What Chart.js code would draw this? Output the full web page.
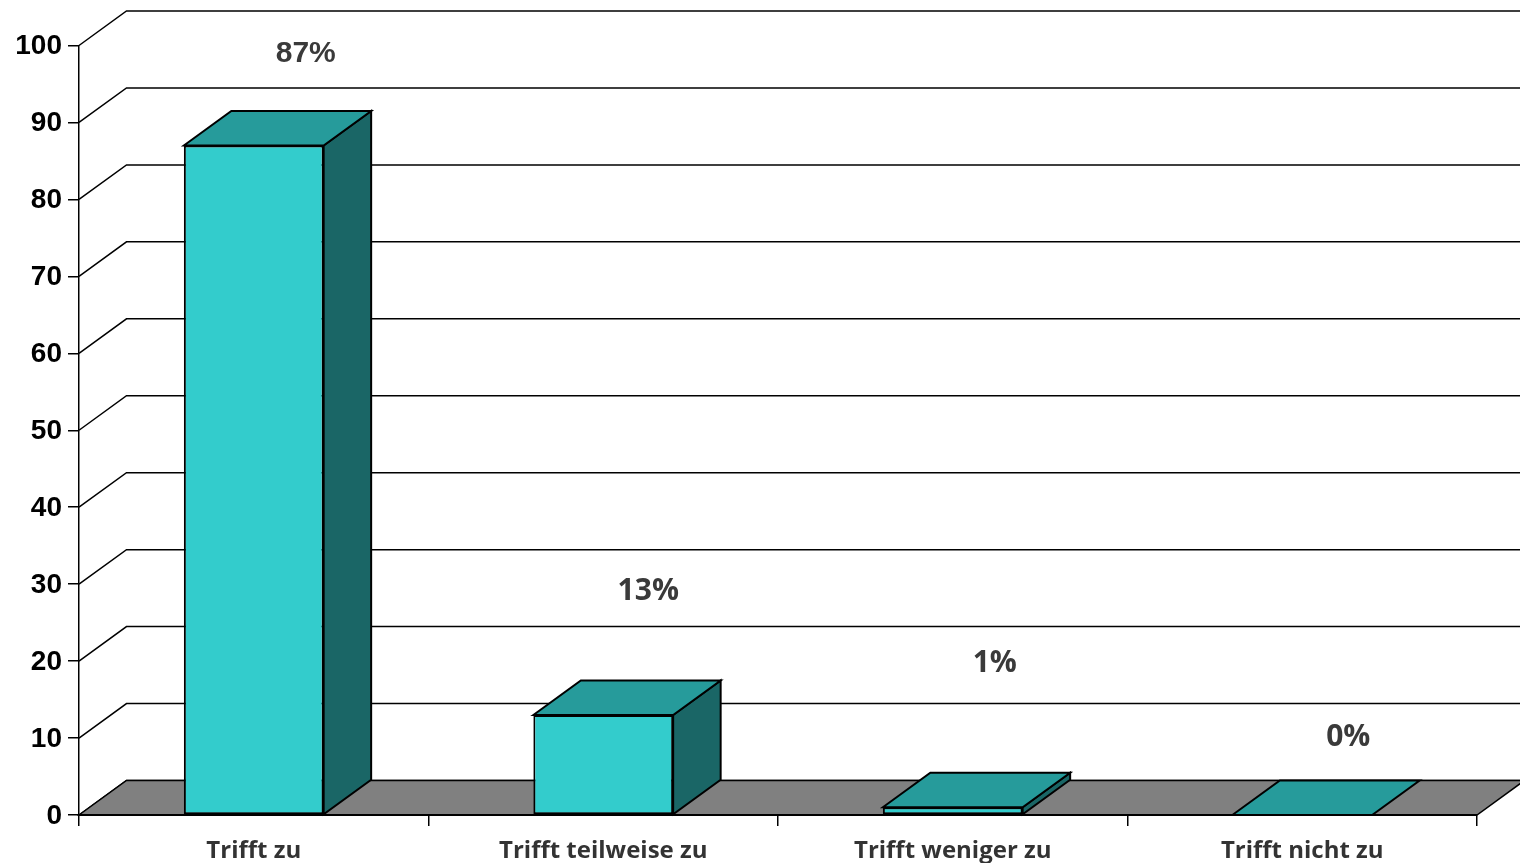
<!DOCTYPE html>
<html>
<head>
<meta charset="UTF-8">
<title>Trifft zu</title>
<script src="https://cdn.jsdelivr.net/npm/chart.js@4"></script>
<style>
  html, body { margin: 0; padding: 0; background: #fff; overflow: hidden; }
  canvas { display: block; }
</style>
</head>
<body>
<canvas id="chart" width="1520" height="863"></canvas>
<script>
const categories = ['Trifft zu', 'Trifft teilweise zu', 'Trifft weniger zu', 'Trifft nicht zu']
const values = [87, 13, 1, 0]
const valueLabels = ['87%', '13%', '1%', '0%']
const yTicks = [0, 10, 20, 30, 40, 50, 60, 70, 80, 90, 100]

// 3d look
const depthX = 47.5
const depthY = 34.5
const labelShift = [[52, -92], [45, -124], [42, -144], [46, -78]]
const labelFonts = ['bold 30px "Liberation Sans"', 'bold 30px "Open Sans"', 'bold 30px "Open Sans"', 'bold 30px "Open Sans"']

function poly(ctx, pts, fill) {
  ctx.beginPath()
  pts.forEach((p, i) => i ? ctx.lineTo(p[0], p[1]) : ctx.moveTo(p[0], p[1]))
  ctx.closePath()
  ctx.fillStyle = fill
  ctx.fill()
  ctx.stroke()
}

const box3d = {
  id: 'box3d',
  beforeDatasetsDraw(chart) {
    const ctx = chart.ctx
    const xs = chart.scales.x
    const ys = chart.scales.y
    const left = xs.left, right = xs.right
    ctx.save()
    ctx.strokeStyle = '#000'
    ctx.lineWidth = 1.5

    // back wall lines
    yTicks.forEach(t => {
      const y = ys.getPixelForValue(t)
      ctx.beginPath()
      ctx.moveTo(left, y)
      ctx.lineTo(left + depthX, y - depthY)
      ctx.lineTo(right + depthX, y - depthY)
      ctx.stroke()
    })

    // floor
    const y0 = ys.getPixelForValue(0)
    poly(ctx, [[left, y0], [left + depthX, y0 - depthY], [right + depthX, y0 - depthY], [right, y0]], '#808080')

    // side and top of every bar
    ctx.lineWidth = 2
    chart.getDatasetMeta(0).data.forEach(bar => {
      const l = bar.x - bar.width / 2
      const r = bar.x + bar.width / 2
      if (bar.base - bar.y > 0.5) {
        poly(ctx, [[r, bar.y], [r + depthX, bar.y - depthY], [r + depthX, bar.base - depthY], [r, bar.base]], '#1a6666')
      }
      poly(ctx, [[l, bar.y], [l + depthX, bar.y - depthY], [r + depthX, bar.y - depthY], [r, bar.y]], '#269b9b')
    })
    ctx.restore()
  },
  afterDatasetsDraw(chart) {
    const ctx = chart.ctx
    const xs = chart.scales.x
    const y0 = chart.scales.y.getPixelForValue(0)
    ctx.save()
    // front edge of the floor
    ctx.strokeStyle = '#000'
    ctx.lineWidth = 2
    ctx.beginPath()
    ctx.moveTo(xs.left, y0)
    ctx.lineTo(xs.right, y0)
    ctx.stroke()
    // value labels
    ctx.fillStyle = '#3a3a3a'
    ctx.textAlign = 'center'
    ctx.textBaseline = 'middle'
    chart.getDatasetMeta(0).data.forEach((bar, i) => {
      ctx.font = labelFonts[i]
      ctx.fillText(valueLabels[i], bar.x + labelShift[i][0], bar.y + labelShift[i][1])
    })
    ctx.restore()
  }
}

new Chart(document.getElementById('chart'), {
  type: 'bar',
  data: {
    labels: categories,
    datasets: [{
      data: values,
      backgroundColor: '#33cccc',
      borderColor: '#000',
      borderWidth: 2,
      borderSkipped: false,
      barPercentage: 0.4,
      categoryPercentage: 1
    }]
  },
  options: {
    responsive: false,
    animation: false,
    layout: { padding: { top: 45.5, right: 43 } },
    plugins: { legend: { display: false }, tooltip: { enabled: false } },
    scales: {
      x: {
        afterFit(s) { s.height = 48 },
        grid: { drawOnChartArea: false, color: '#000', lineWidth: 1.5, tickLength: 11 },
        border: { color: '#000', width: 1.5 },
        ticks: { color: '#333', font: { family: 'Open Sans', weight: 'bold', size: 24 }, padding: 11, maxRotation: 0 }
      },
      y: {
        min: 0,
        max: 100,
        afterFit(s) { s.width = 79 },
        afterBuildTicks(s) { s.ticks = yTicks.map(v => ({ value: v })) },
        grid: { drawOnChartArea: false, color: '#000', lineWidth: 1.5, tickLength: 11 },
        border: { color: '#000', width: 1.5 },
        ticks: { color: '#000', font: { family: 'Liberation Sans', weight: 'bold', size: 28 }, padding: 6, labelOffset: 1 }
      }
    }
  },
  plugins: [box3d]
})
</script>
</body>
</html>
